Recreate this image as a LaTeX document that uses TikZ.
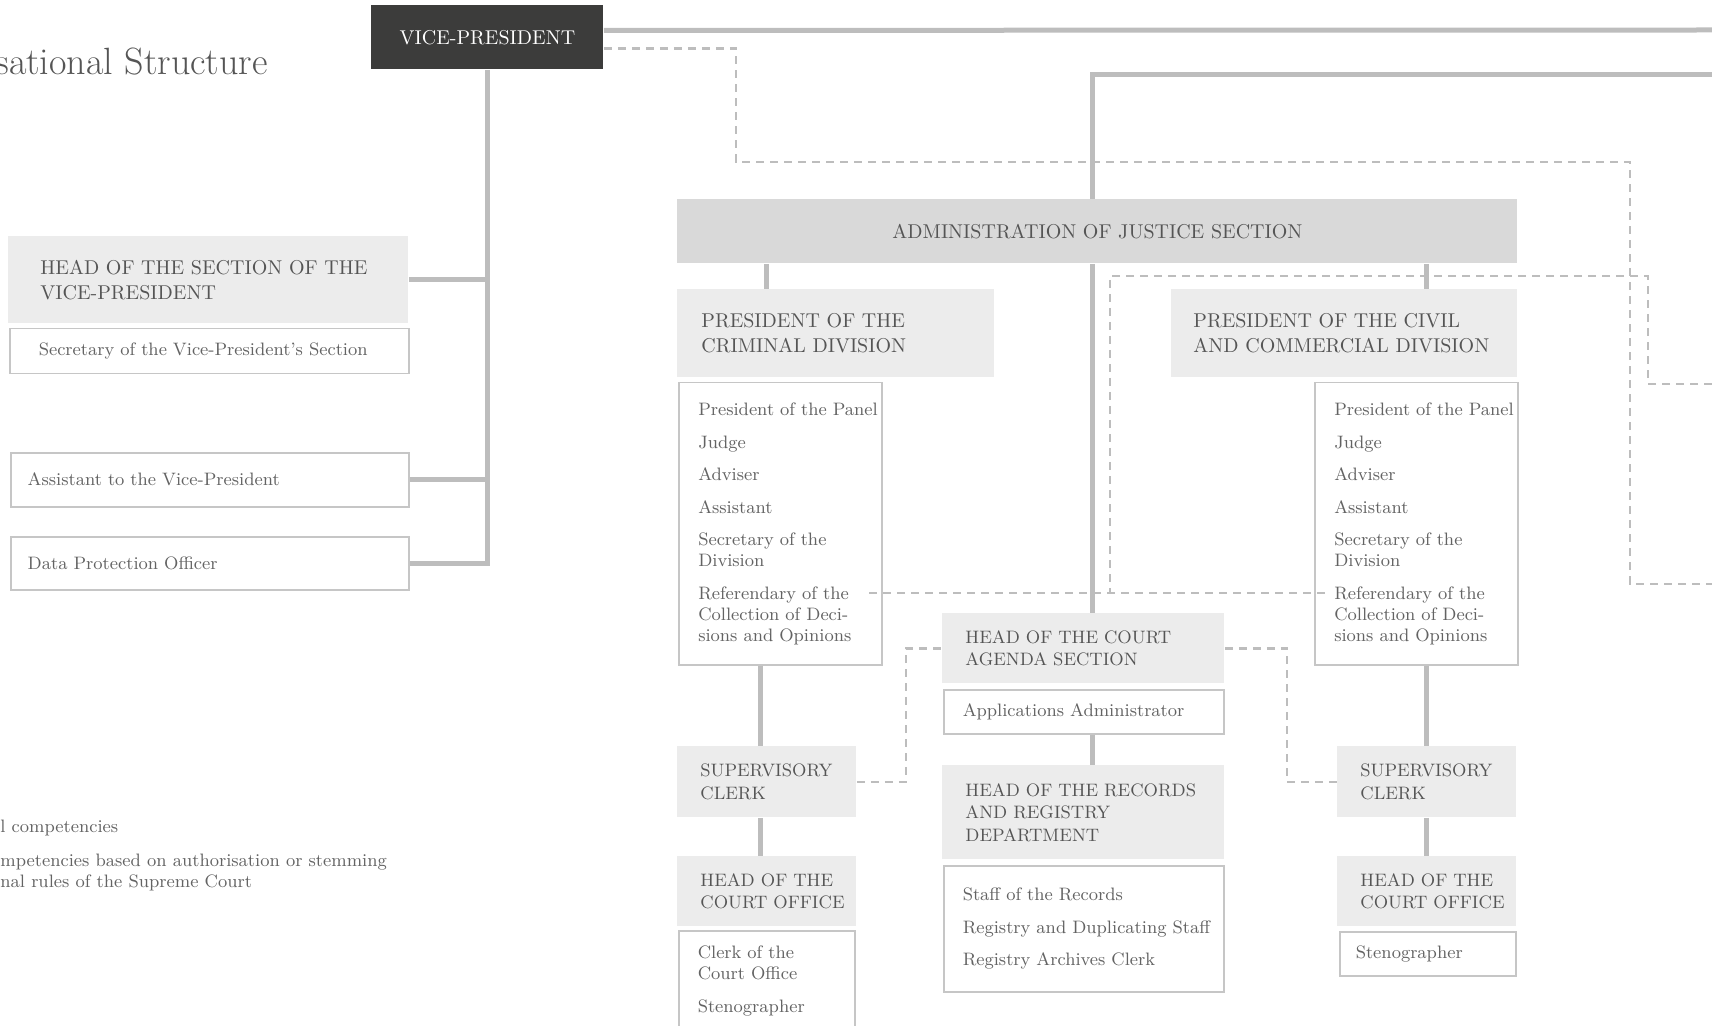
\documentclass[tikz,border=0pt]{standalone}
\definecolor{linegray}{HTML}{BDBDBD}
\definecolor{boxgray}{HTML}{ECECEC}
\definecolor{admingray}{HTML}{D9D9D9}
\definecolor{vpdark}{HTML}{3C3C3B}
\definecolor{rulegray}{HTML}{C6C6C6}
\definecolor{textgray}{HTML}{555555}
\definecolor{bodygray}{HTML}{636363}
\newcommand{\headfont}{\fontsize{10}{12.25}\selectfont}
\newcommand{\subheadfont}{\fontsize{9}{11.25}\selectfont}
\newcommand{\bodyfont}{\fontsize{9}{10.5}\selectfont}
\newcommand{\itemgap}{\\[5.75pt]}

\begin{document}
\begin{tikzpicture}[x=0.5pt,y=-0.5pt]
    \tikzstyle{conn}=[draw=linegray, line width=2.5pt]
    \tikzstyle{dashconn}=[draw=linegray, line width=1.2pt, dash pattern=on 4pt off 3pt]
    \tikzstyle{boxbase}=[anchor=north west, inner ysep=0pt, align=left]
    \tikzstyle{headbox}=[boxbase, fill=boxgray, text=textgray, font=\headfont]
    \tikzstyle{subbox}=[boxbase, fill=boxgray, text=textgray, font=\subheadfont]
    \tikzstyle{listbox}=[boxbase, draw=rulegray, line width=0.75pt, fill=white,
      text=bodygray, font=\bodyfont]
    \useasboundingbox (0,0) rectangle (1712,1026);

    \draw (-5,75) node[anchor=base west, inner sep=0pt, text=textgray,
      font=\fontsize{19}{22}\selectfont] (title) {sational Structure};
    \draw (371,5) node[anchor=north west, fill=vpdark, text=white, font=\headfont,
      minimum width=116pt, minimum height=32pt] (vp) {VICE-PRESIDENT};

    % section of the vice-president
    \draw (8,236) node[headbox, inner xsep=16pt, text width=168pt, minimum height=43.5pt]
      (headsec) {HEAD OF THE SECTION OF THE\\VICE-PRESIDENT};
    \draw (9,328) node[listbox, inner xsep=14.5pt, text width=170.5pt, minimum height=22.5pt]
      (secvp) {Secretary of the Vice-President's Section};
    \draw (10,452) node[listbox, inner xsep=8.5pt, text width=182pt, minimum height=27pt]
      (assist) {Assistant to the Vice-President};
    \draw (10,536) node[listbox, inner xsep=8.5pt, text width=182pt, minimum height=26.5pt]
      (dpo) {Data Protection Officer};

    \draw (677,199) node[anchor=north west, fill=admingray, text=textgray, font=\headfont,
      minimum width=420pt, minimum height=32pt] (admin) {ADMINISTRATION OF JUSTICE SECTION};

    % criminal division
    \draw (677,289) node[headbox, inner xsep=12pt, text width=134.5pt, minimum height=44pt]
      (crimhead) {PRESIDENT OF THE\\CRIMINAL DIVISION};
    \draw (678,382) node[listbox, inner xsep=9.75pt, text width=82pt, minimum height=141pt]
      (crimlist) {\mbox{President of the Panel}\itemgap Judge\itemgap Adviser\itemgap Assistant\itemgap
      Secretary of the\\Division\itemgap Referendary of the\\Collection of Deci-\\sions and Opinions};
    \draw (677,746) node[subbox, inner xsep=11.5pt, text width=66.5pt, minimum height=35.5pt]
      (crimsup) {SUPERVISORY\\CLERK};
    \draw (677,856) node[subbox, inner xsep=11.5pt, text width=66.5pt, minimum height=35pt]
      (crimoffice) {HEAD OF THE\\\mbox{COURT OFFICE}};
    \draw (678,930) node[listbox, inner xsep=9.5pt, text width=69pt, minimum height=50.5pt]
      (crimclerk) {Clerk of the\\Court Office\itemgap Stenographer};

    % civil and commercial division
    \draw (1171,289) node[headbox, inner xsep=11pt, text width=151pt, minimum height=44pt]
      (civhead) {PRESIDENT OF THE CIVIL\\\mbox{AND COMMERCIAL DIVISION}};
    \draw (1314,382) node[listbox, inner xsep=9.75pt, text width=82pt, minimum height=141pt]
      (civlist) {\mbox{President of the Panel}\itemgap Judge\itemgap Adviser\itemgap Assistant\itemgap
      Secretary of the\\Division\itemgap Referendary of the\\Collection of Deci-\\sions and Opinions};
    \draw (1337,746) node[subbox, inner xsep=11.5pt, text width=66.5pt, minimum height=35.5pt]
      (civsup) {SUPERVISORY\\CLERK};
    \draw (1337,856) node[subbox, inner xsep=11.5pt, text width=66.5pt, minimum height=35pt]
      (civoffice) {HEAD OF THE\\\mbox{COURT OFFICE}};
    \draw (1339,931) node[listbox, inner xsep=8pt, text width=72pt, minimum height=22pt]
      (civsteno) {Stenographer};

    % court agenda and records
    \draw (942,613) node[subbox, inner xsep=11.5pt, text width=118pt, minimum height=35pt]
      (agenda) {HEAD OF THE COURT\\AGENDA SECTION};
    \draw (943,689) node[listbox, inner xsep=9.5pt, text width=121pt, minimum height=22pt]
      (appadmin) {Applications Administrator};
    \draw (942,765) node[subbox, inner xsep=11.5pt, text width=118pt, minimum height=47pt]
      (records) {\mbox{HEAD OF THE RECORDS}\\AND REGISTRY\\DEPARTMENT};
    \draw (943,865) node[listbox, inner xsep=9.5pt, text width=121pt, minimum height=63pt]
      (recstaff) {Staff of the Records\itemgap \mbox{Registry and Duplicating Staff}\itemgap
      Registry Archives Clerk};

    % legend
    \draw (0,828) node[anchor=west, inner sep=0pt, text=bodygray, font=\bodyfont]
      (legendA) {l competencies};
    \draw (0,872.5) node[anchor=west, inner sep=0pt, align=left, text=bodygray, font=\bodyfont]
      (legendB) {mpetencies based on authorisation or stemming\\nal rules of the Supreme Court};

    \coordinate (edgeA) at (1712,30);
    \coordinate (edgeB) at (1712,75);
    \coordinate (edgeC) at (1712,584);
    \coordinate (edgeD) at (1712,384);
    \coordinate (crimref) at (869,593);
    \coordinate (civref) at (1325,593);
    \coordinate (spine) at (1092,0);
    \coordinate (crimcol) at (760,0);

    \draw[dashconn] ([yshift=-5.5pt]vp.east) -| (736,162) -| (1630,584) -- (edgeC);
    \draw[dashconn] (edgeD) -| (1648,276) -| (1110,593);
    \draw[dashconn] (crimref) -- (civref);
    \draw[dashconn] (crimsup.east) -- ++(24.5pt,0) |- (agenda.west);
    \draw[dashconn] (agenda.east) -- ++(31pt,0) |- (civsup.west);

    \draw[conn] ([yshift=3.5pt]vp.east) -- (edgeA);
    \draw[conn] (edgeB) -| (admin.north -| spine);
    \draw[conn] (vp.south) |- (dpo.east);
    \draw[conn] (headsec.east) -- (headsec.east -| vp.south);
    \draw[conn] (assist.east) -- (assist.east -| vp.south);
    \draw[conn] (admin.south -| spine) -- (agenda.north -| spine);
    \draw[conn] (appadmin.south -| spine) -- (records.north -| spine);
    \draw[conn] (admin.south -| crimsup.north) -- (crimhead.north -| crimsup.north);
    \draw[conn] (crimlist.south -| crimcol) -- (crimsup.north -| crimcol);
    \draw[conn] (crimsup.south -| crimcol) -- (crimoffice.north -| crimcol);
    \draw[conn] (admin.south -| civsup.north) -- (civhead.north -| civsup.north);
    \draw[conn] (civlist.south -| civsup.north) -- (civsup.north);
    \draw[conn] (civsup.south) -- (civoffice.north);
\end{tikzpicture}
\end{document}
